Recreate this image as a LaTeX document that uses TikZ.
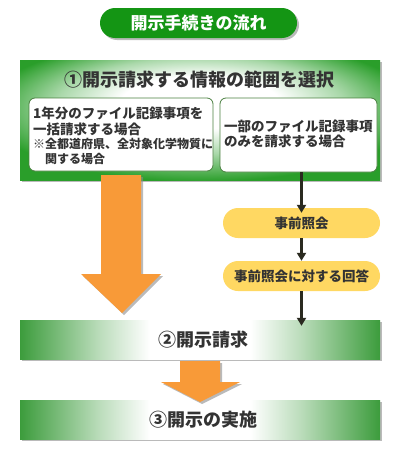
\documentclass[tikz,border=0pt]{standalone}
\usepackage{fontspec}
\setmainfont{Noto Sans CJK JP}
\usetikzlibrary{shadows,arrows.meta}
\definecolor{pillgreen}{HTML}{149514}
\definecolor{boxgreen}{HTML}{2A9E2A}
\definecolor{bargreen}{HTML}{3C9C3C}
\definecolor{txt}{HTML}{333333}
\definecolor{orng}{HTML}{F89A38}
\definecolor{ylw}{HTML}{FFD862}
\definecolor{arr}{HTML}{2A2A20}
\definecolor{innerline}{HTML}{4A8040}
\pgfdeclareradialshading{boxoneshade}{\pgfpoint{0bp}{9bp}}{color(0bp)=(white); color(11bp)=(white); color(20bp)=(boxgreen!40!white); color(30bp)=(boxgreen); color(60bp)=(boxgreen)}
\pgfdeclarehorizontalshading{barshade}{100bp}{color(0bp)=(bargreen); color(25bp)=(bargreen); color(36bp)=(bargreen!35!white); color(43bp)=(white); color(57bp)=(white); color(64bp)=(bargreen!35!white); color(75bp)=(bargreen); color(100bp)=(bargreen)}
\tikzset{
  softshadow/.style={drop shadow={shadow xshift=2pt,shadow yshift=-2pt,fill=black!45,opacity=0.6}},
  bigbox/.style={rectangle,minimum width=360pt,softshadow},
  barbox/.style={bigbox,minimum height=39pt,shading=barshade},
  innerbox/.style={draw=innerline,line width=0.8pt,fill=white,rounded corners=6pt},
  pill/.style={fill=ylw,rounded corners=15pt,minimum width=157pt,minimum height=30pt,font=\bfseries\fontsize{13.5}{13.5}\selectfont},
  bodytext/.style={anchor=west,font=\bfseries\fontsize{13.5}{13.5}\selectfont},
  notetext/.style={anchor=west,font=\bfseries\fontsize{12}{12}\selectfont},
  headtext/.style={font=\bfseries\fontsize{18}{18}\selectfont},
  conn/.style={draw=arr,line width=2.5pt,-{Triangle[width=9pt,length=8pt]}},
  bigarrow/.style={fill=orng,softshadow}
}
\begin{document}
\begin{tikzpicture}[x=1pt,y=-1pt,every node/.style={text=txt,inner sep=0pt}]
\useasboundingbox (0,0) rectangle (400,450);
\fill[white] (0,0) rectangle (400,450);

% title pill
\node[fill=pillgreen,rounded corners=15pt,minimum width=197pt,minimum height=30pt,
      text=white,font=\bfseries\fontsize{17}{17}\selectfont,softshadow] (title) at (198.5,23) {開示手続きの流れ};

% step 1 box
\node[bigbox,minimum height=120pt,shading=boxoneshade] (stepone) at (200,120) {};
\node[headtext] (onelabel) at (199,80) {①開示請求する情報の範囲を選択};

\node[innerbox,minimum width=184pt,minimum height=73pt] (whole) at (121,134.5) {};
\node[innerbox,minimum width=157pt,minimum height=74pt] (partial) at (298.5,135) {};

\node[bodytext] (wa) at (33,113) {1年分のファイル記録事項を};
\node[bodytext] (wb) at (33,129) {一括請求する場合};
\node[notetext] (wc) at (33,144) {※全都道府県、全対象化学物質に};
\node[notetext] (wd) at (45,159) {関する場合};

\node[bodytext] (pa) at (224,126) {一部のファイル記録事項};
\node[bodytext] (pb) at (224,141) {のみを請求する場合};

% pills
\node[pill] (inquiry) at (301.5,223) {事前照会};
\node[pill] (answer) at (301.5,276) {事前照会に対する回答};

% step 2 and 3 bars
\node[barbox] (steptwo) at (200,339.5) {};
\node[headtext] (twolabel) at (203,339.5) {②開示請求};
\node[barbox] (stepthree) at (200,419.5) {};
\node[headtext] (threelabel) at (203,419.5) {③開示の実施};

% big orange arrows
\coordinate (bigtip) at (122,313);
\coordinate (smalltip) at (200,402);
\fill[bigarrow] (101,175) -- (141,175) -- (141,274) -- (161,274) -- (bigtip) -- (81,274) -- (101,274) -- cycle;
\fill[bigarrow] (180,361) -- (220,361) -- (220,382) -- (240,382) -- (smalltip) -- (161,382) -- (180,382) -- cycle;

% connectors
\coordinate (endtwo) at ([yshift=-6pt]steptwo.north -| answer.south);
\draw[conn,shorten >=-5pt] (partial.south -| inquiry.north) -- (inquiry.north);
\draw[conn] (inquiry.south) -- (answer.north);
\draw[conn] (answer.south) -- (endtwo);
\end{tikzpicture}
\end{document}
